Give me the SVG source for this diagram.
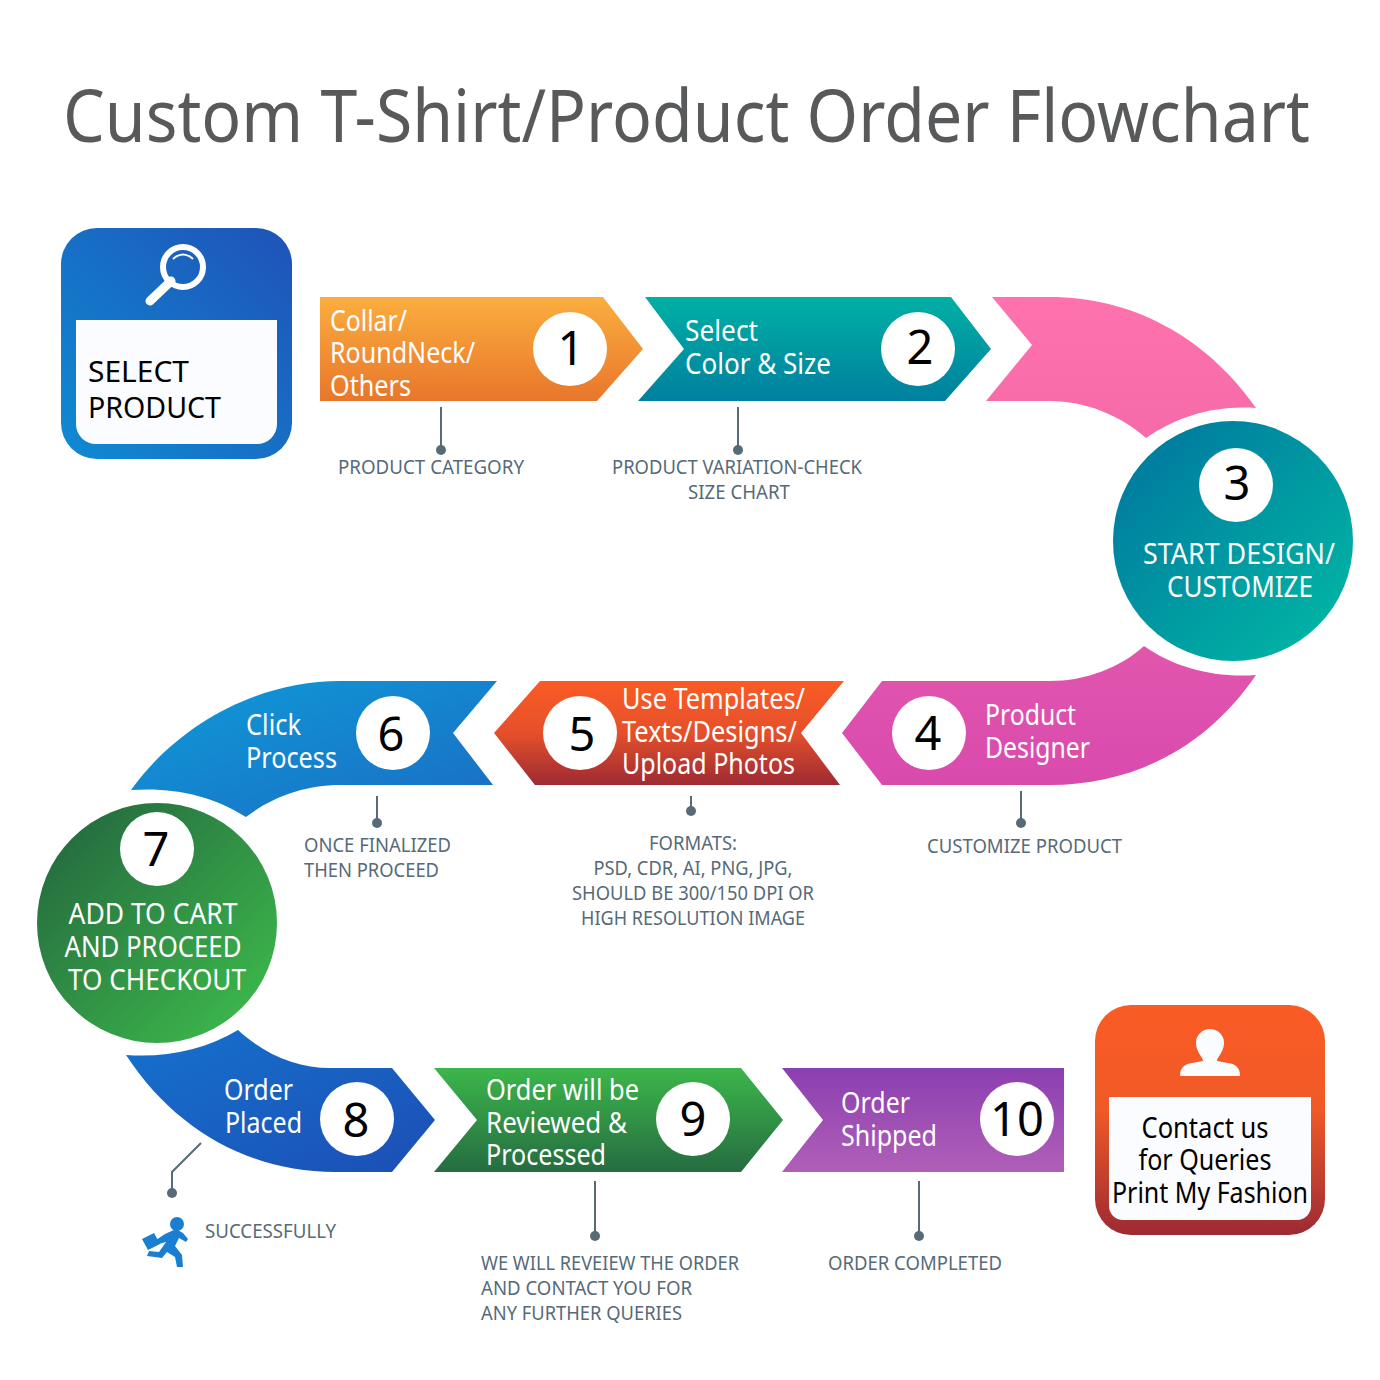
<svg xmlns="http://www.w3.org/2000/svg" width="1380" height="1380" viewBox="0 0 1380 1380">
<style>
text{font-family:"Noto Sans","DejaVu Sans",sans-serif}
.t{font-size:73px;fill:#58595b}
.w{font-size:29px;fill:#fff}
.k{font-size:29px;fill:#000}
.n{font-size:47px;fill:#000;text-anchor:middle}
.c{font-size:20px;fill:#566a77}
.m{text-anchor:middle}
.d{fill:#fff}
.l{stroke:#566a77;stroke-width:2;fill:none}
.p{fill:#566a77}
</style>
<defs>
<linearGradient id="g0" x1="0" y1="1" x2="1" y2="0"><stop offset="0" stop-color="#0f8bd2"/><stop offset="1" stop-color="#1f52b8"/></linearGradient>
<linearGradient id="g1" x1="0" y1="0" x2="0" y2="1"><stop offset="0" stop-color="#fbae3f"/><stop offset="1" stop-color="#e8762b"/></linearGradient>
<linearGradient id="g2" x1="0" y1="0" x2="0" y2="1"><stop offset="0" stop-color="#00b0a4"/><stop offset="1" stop-color="#00809f"/></linearGradient>
<linearGradient id="g3" x1="0" y1="0" x2="0" y2="1"><stop offset="0" stop-color="#ff72ae"/><stop offset="1" stop-color="#f56aa8"/></linearGradient>
<linearGradient id="g3c" x1="0" y1="0" x2="1" y2="1"><stop offset="0.1" stop-color="#007a9f"/><stop offset="0.9" stop-color="#00b5a4"/></linearGradient>
<linearGradient id="g4" x1="0" y1="0" x2="0" y2="1"><stop offset="0" stop-color="#e256ad"/><stop offset="1" stop-color="#d94aad"/></linearGradient>
<linearGradient id="g5" x1="0" y1="0" x2="0" y2="1"><stop offset="0" stop-color="#fb5b25"/><stop offset="0.5" stop-color="#e5502b"/><stop offset="1" stop-color="#9d2a33"/></linearGradient>
<linearGradient id="g6" x1="0" y1="0" x2="1" y2="1"><stop offset="0" stop-color="#0f9bd8"/><stop offset="1" stop-color="#1a6cc4"/></linearGradient>
<linearGradient id="g7" x1="0" y1="0" x2="1" y2="1"><stop offset="0.1" stop-color="#256b3f"/><stop offset="0.9" stop-color="#3cb74b"/></linearGradient>
<linearGradient id="g8" x1="0" y1="0" x2="1" y2="1"><stop offset="0" stop-color="#1572cc"/><stop offset="1" stop-color="#1c4eb6"/></linearGradient>
<linearGradient id="g9" x1="0" y1="0" x2="0" y2="1"><stop offset="0" stop-color="#3cb64a"/><stop offset="1" stop-color="#256c41"/></linearGradient>
<linearGradient id="g10" x1="0" y1="0" x2="0" y2="1"><stop offset="0" stop-color="#8b3fb0"/><stop offset="1" stop-color="#b05fb8"/></linearGradient>
<linearGradient id="g11" x1="0" y1="0" x2="0" y2="1"><stop offset="0" stop-color="#fb5b25"/><stop offset="0.45" stop-color="#f05a27"/><stop offset="1" stop-color="#9c2a33"/></linearGradient>
</defs>
<text class="t" x="63" y="142" textLength="1247" lengthAdjust="spacingAndGlyphs">Custom T-Shirt/Product Order Flowchart</text>

<g id="leaders">
<path class="l" d="M441 407V450M738 407V450M1021 791V823M691 796V811M377 796V823M201 1143L172 1172V1193M595 1181V1236M919 1181V1236"/>
<circle class="p" cx="441" cy="450" r="5"/><circle class="p" cx="738" cy="450" r="5"/><circle class="p" cx="1021" cy="823" r="5"/><circle class="p" cx="691" cy="811" r="5"/><circle class="p" cx="377" cy="823" r="5"/><circle class="p" cx="172" cy="1193" r="5"/><circle class="p" cx="595" cy="1236" r="5"/><circle class="p" cx="919" cy="1236" r="5"/>
</g>

<g id="select-product">
<rect x="61" y="228" width="231" height="231" rx="36" fill="url(#g0)"/>
<path d="M76 320H277V424a20 20 0 0 1-20 20H96a20 20 0 0 1-20-20Z" fill="#fbfcff"/>
<circle cx="183" cy="267" r="20" fill="none" stroke="#fff" stroke-width="6"/>
<path d="M171 281L150 301" stroke="#fff" stroke-width="9" stroke-linecap="round"/>
<path d="M173 259Q183 250 193 259" fill="none" stroke="#fff" stroke-width="2"/>
<text class="k" x="88" y="382" textLength="101" lengthAdjust="spacingAndGlyphs">SELECT</text>
<text class="k" x="88" y="418" textLength="133" lengthAdjust="spacingAndGlyphs">PRODUCT</text>
</g>

<g id="step-1">
<path d="M320 297H603L643 349L597 401H320Z" fill="url(#g1)"/>
<circle class="d" cx="570" cy="349" r="37"/>
<text class="n" x="571" y="365">1</text>
<text class="w" x="330" y="331" textLength="77" lengthAdjust="spacingAndGlyphs">Collar/</text>
<text class="w" x="330" y="363" textLength="145" lengthAdjust="spacingAndGlyphs">RoundNeck/</text>
<text class="w" x="330" y="396" textLength="81" lengthAdjust="spacingAndGlyphs">Others</text>
<text class="c" x="338" y="474" textLength="186" lengthAdjust="spacingAndGlyphs">PRODUCT CATEGORY</text>
</g>

<g id="step-2">
<path d="M645 297H951L991 349L945 401H638L684 349Z" fill="url(#g2)"/>
<circle class="d" cx="918" cy="349" r="37"/>
<text class="n" x="920" y="364">2</text>
<text class="w" x="685" y="341" textLength="73" lengthAdjust="spacingAndGlyphs">Select</text>
<text class="w" x="685" y="374" textLength="146" lengthAdjust="spacingAndGlyphs">Color &amp; Size</text>
<text class="c" x="612" y="474" textLength="250" lengthAdjust="spacingAndGlyphs">PRODUCT VARIATION-CHECK</text>
<text class="c" x="688" y="499" textLength="102" lengthAdjust="spacingAndGlyphs">SIZE CHART</text>
</g>

<g id="step-3">
<path d="M992 297H1050C1130 297 1205 335 1256 408C1215 405 1178 416 1146 438C1120 415 1085 401 1050 401H986L1032 345Z" fill="url(#g3)"/>
<circle cx="1233" cy="541" r="120" fill="url(#g3c)"/>
<circle class="d" cx="1236" cy="485" r="37"/>
<text class="n" x="1237" y="500">3</text>
<text class="w m" x="1239" y="564" textLength="192" lengthAdjust="spacingAndGlyphs">START DESIGN/</text>
<text class="w m" x="1240" y="597" textLength="146" lengthAdjust="spacingAndGlyphs">CUSTOMIZE</text>
</g>

<g id="step-4">
<path d="M1256 675C1205 750 1130 785 1050 785H882L842 733L882 681H1050C1085 681 1120 668 1144 646C1175 668 1215 678 1256 675Z" fill="url(#g4)"/>
<circle class="d" cx="929" cy="733" r="37"/>
<text class="n" x="928" y="750">4</text>
<text class="w" x="985" y="725" textLength="91" lengthAdjust="spacingAndGlyphs">Product</text>
<text class="w" x="985" y="758" textLength="105" lengthAdjust="spacingAndGlyphs">Designer</text>
<text class="c" x="927" y="853" textLength="195" lengthAdjust="spacingAndGlyphs">CUSTOMIZE PRODUCT</text>
</g>

<g id="step-5">
<path d="M844 681L801 733L840 785H535L494 733L540 681Z" fill="url(#g5)"/>
<circle class="d" cx="580" cy="733" r="37"/>
<text class="n" x="582" y="751">5</text>
<text class="w" x="622" y="709" textLength="183" lengthAdjust="spacingAndGlyphs">Use Templates/</text>
<text class="w" x="622" y="742" textLength="175" lengthAdjust="spacingAndGlyphs">Texts/Designs/</text>
<text class="w" x="622" y="774" textLength="173" lengthAdjust="spacingAndGlyphs">Upload Photos</text>
<text class="c m" x="693" y="850" textLength="88" lengthAdjust="spacingAndGlyphs">FORMATS:</text>
<text class="c m" x="693" y="875" textLength="199" lengthAdjust="spacingAndGlyphs">PSD, CDR, AI, PNG, JPG,</text>
<text class="c m" x="693" y="900" textLength="242" lengthAdjust="spacingAndGlyphs">SHOULD BE 300/150 DPI OR</text>
<text class="c m" x="693" y="925" textLength="224" lengthAdjust="spacingAndGlyphs">HIGH RESOLUTION IMAGE</text>
</g>

<g id="step-6">
<path d="M497 681L453 733L493 785H340C305 785 272 797 246 817C212 795 172 787 131 790C180 722 260 681 340 681Z" fill="url(#g6)"/>
<circle class="d" cx="393" cy="733" r="37"/>
<text class="n" x="391" y="751">6</text>
<text class="w" x="246" y="735" textLength="55" lengthAdjust="spacingAndGlyphs">Click</text>
<text class="w" x="246" y="768" textLength="91" lengthAdjust="spacingAndGlyphs">Process</text>
<text class="c" x="304" y="852" textLength="147" lengthAdjust="spacingAndGlyphs">ONCE FINALIZED</text>
<text class="c" x="304" y="877" textLength="135" lengthAdjust="spacingAndGlyphs">THEN PROCEED</text>
</g>

<g id="step-7">
<circle cx="157" cy="923" r="120" fill="url(#g7)"/>
<circle class="d" cx="157" cy="849" r="37"/>
<text class="n" x="156" y="866">7</text>
<text class="w m" x="153" y="924" textLength="169" lengthAdjust="spacingAndGlyphs">ADD TO CART</text>
<text class="w m" x="153" y="957" textLength="177" lengthAdjust="spacingAndGlyphs">AND PROCEED</text>
<text class="w m" x="157" y="990" textLength="178" lengthAdjust="spacingAndGlyphs">TO CHECKOUT</text>
</g>

<g id="step-8">
<path d="M126 1055C165 1058 205 1050 238 1030C265 1055 298 1068 330 1068H392L435 1120L392 1172H335C250 1172 175 1130 126 1055Z" fill="url(#g8)"/>
<circle class="d" cx="357" cy="1119" r="37"/>
<text class="n" x="356" y="1137">8</text>
<text class="w" x="224" y="1100" textLength="69" lengthAdjust="spacingAndGlyphs">Order</text>
<text class="w" x="225" y="1133" textLength="77" lengthAdjust="spacingAndGlyphs">Placed</text>
<text class="c" x="205" y="1238" textLength="131" lengthAdjust="spacingAndGlyphs">SUCCESSFULLY</text>
<g id="runner" fill="#1a7fd0">
<circle cx="177" cy="1224" r="7"/>
<path d="M165 1234L176 1229L183 1233L188 1239L186 1242L179 1238L175 1246L182 1255L183 1267L177 1267L175 1257L167 1252L162 1258L147 1256L149 1251L159 1252L166 1242L159 1244L156 1240Z"/>
<path d="M142 1239L154 1233L160 1244L148 1250Z"/>
</g>
</g>

<g id="step-9">
<path d="M434 1068H741L783 1120L741 1172H434L477 1120Z" fill="url(#g9)"/>
<circle class="d" cx="693" cy="1119" r="37"/>
<text class="n" x="693" y="1136">9</text>
<text class="w" x="486" y="1100" textLength="153" lengthAdjust="spacingAndGlyphs">Order will be</text>
<text class="w" x="486" y="1133" textLength="141" lengthAdjust="spacingAndGlyphs">Reviewed &amp;</text>
<text class="w" x="486" y="1165" textLength="120" lengthAdjust="spacingAndGlyphs">Processed</text>
<text class="c" x="481" y="1270" textLength="258" lengthAdjust="spacingAndGlyphs">WE WILL REVEIEW THE ORDER</text>
<text class="c" x="481" y="1295" textLength="211" lengthAdjust="spacingAndGlyphs">AND CONTACT YOU FOR</text>
<text class="c" x="481" y="1320" textLength="201" lengthAdjust="spacingAndGlyphs">ANY FURTHER QUERIES</text>
</g>

<g id="step-10">
<path d="M782 1068H1064V1172H782L823 1120Z" fill="url(#g10)"/>
<circle class="d" cx="1017" cy="1119" r="37"/>
<text class="n" x="1017" y="1136">10</text>
<text class="w" x="841" y="1113" textLength="69" lengthAdjust="spacingAndGlyphs">Order</text>
<text class="w" x="841" y="1146" textLength="96" lengthAdjust="spacingAndGlyphs">Shipped</text>
<text class="c" x="828" y="1270" textLength="174" lengthAdjust="spacingAndGlyphs">ORDER COMPLETED</text>
</g>

<g id="contact">
<rect x="1095" y="1005" width="230" height="230" rx="36" fill="url(#g11)"/>
<path d="M1109 1097H1311V1206a14 14 0 0 1-14 14H1123a14 14 0 0 1-14-14Z" fill="#fbfcff"/>
<path d="M1180 1076C1180 1068 1184 1064 1192 1063L1203 1061C1203 1057 1196 1052 1196 1043A14 14 0 0 1 1224 1043C1224 1052 1217 1057 1217 1061L1228 1063C1236 1064 1240 1068 1240 1076Z" fill="#fbfcff"/>
<text class="k m" x="1205" y="1138" textLength="127" lengthAdjust="spacingAndGlyphs">Contact us</text>
<text class="k m" x="1205" y="1170" textLength="133" lengthAdjust="spacingAndGlyphs">for Queries</text>
<text class="k m" x="1210" y="1203" textLength="196" lengthAdjust="spacingAndGlyphs">Print My Fashion</text>
</g>
</svg>
